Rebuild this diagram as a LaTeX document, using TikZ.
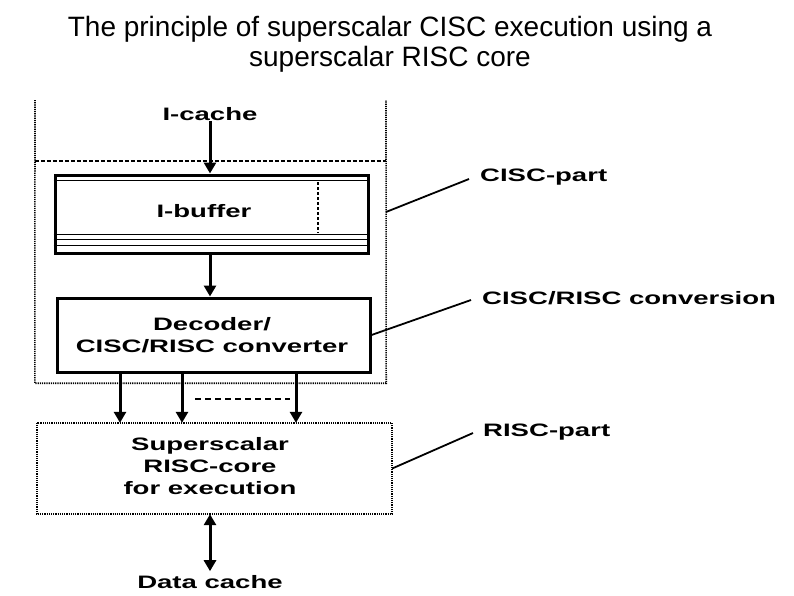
\documentclass[tikz,border=0pt]{standalone}
\usepackage{fontspec}
\setmainfont{Liberation Sans}
\usetikzlibrary{arrows.meta}
\newcommand\wide[1]{\scalebox{1.53}[1]{#1}}
\tikzset{
  title/.style={font=\fontsize{28}{30}\selectfont, inner sep=0pt},
  lab/.style={font=\fontsize{18}{21.5}\selectfont\bfseries, align=center, inner sep=0pt},
  box/.style={draw, line width=3pt, inner sep=0pt},
  dotbox/.style={line width=1.6pt, dash pattern=on 1.2pt off 1pt},
  dashbox/.style={line width=1.6pt, dash pattern=on 4pt off 2pt},
  arr/.style={line width=3pt, -{Triangle[length=11pt,width=12pt]}},
  darr/.style={line width=3pt, {Triangle[length=11pt,width=12pt]}-{Triangle[length=11pt,width=12pt]}},
  leader/.style={line width=1.8pt}
}
\begin{document}
\begin{tikzpicture}[x=1pt,y=-1pt]
\useasboundingbox (0,0) rectangle (794,595);
\fill[white] (0,0) rectangle (794,595);
% title
\node[title] (t1) at (390,29) {The principle of superscalar CISC execution using a};
\node[title] (t2) at (390,59) {superscalar RISC core};
% CISC area
\node[minimum width=351pt, minimum height=222pt, inner sep=0pt] (cisc) at (210.5,272) {};
\coordinate (ctl) at (35,100);
\coordinate (ctr) at (386,100);
\draw[dotbox] (ctl) -- (cisc.south west) -- (cisc.south east) -- (ctr);
\draw[dashbox] (cisc.north west) -- (cisc.north east);
% I-cache
\node[lab] (icache) at (210,114) {\wide{I-cache}};
% I-buffer
\node[box, minimum width=313pt, minimum height=78pt] (ibuf) at (211.5,214) {};
\draw[line width=1.5pt] ([yshift=-7pt]ibuf.north west) -- ([yshift=-7pt]ibuf.north east);
\draw[line width=1.5pt] ([yshift=20pt]ibuf.south west) -- ([yshift=20pt]ibuf.south east);
\draw[line width=1.5pt] ([yshift=15pt]ibuf.south west) -- ([yshift=15pt]ibuf.south east);
\draw[line width=1.5pt] ([yshift=9pt]ibuf.south west) -- ([yshift=9pt]ibuf.south east);
\coordinate (dv1) at (318,182);
\coordinate (dv2) at (318,233);
\draw[line width=2pt, dash pattern=on 3pt off 2pt] (dv1) -- (dv2);
\node[lab] (ibl) at (204,211) {\wide{I-buffer}};
% Decoder
\node[box, minimum width=313pt, minimum height=74pt] (dec) at (213.5,335) {};
\node[lab] (decl) at (212,335) {\wide{Decoder/}\\\wide{CISC/RISC converter}};
% RISC box
\node[minimum width=355pt, minimum height=91pt, inner sep=0pt] (risc) at (214.5,468.5) {};
\draw[dotbox] (risc.north west) rectangle (risc.south east);
\node[lab, font=\fontsize{18}{22}\selectfont\bfseries] (riscl) at (210,466) {\wide{Superscalar}\\\wide{RISC-core}\\\wide{for execution}};
% Data cache
\node[lab] (dc) at (210,582) {\wide{Data cache}};
% arrows
\draw[arr] (icache.south) -- (icache.south |- ibuf.north);
\draw[arr] (ibuf.south -| icache) -- (dec.north -| icache);
\coordinate (a1) at (120,0);
\coordinate (a2) at (182,0);
\coordinate (a3) at (296,0);
\draw[arr] (dec.south -| a1) -- (risc.north -| a1);
\draw[arr] (dec.south -| a2) -- (risc.north -| a2);
\draw[arr] (dec.south -| a3) -- (risc.north -| a3);
\coordinate (dl1) at (195,399);
\coordinate (dl2) at (290,399);
\draw[line width=1.2pt, dash pattern=on 6pt off 4pt] (dl1) -- (dl2);
\draw[darr] (risc.south -| icache) -- ([yshift=4pt]dc.north -| icache);
% side labels
\node[lab, anchor=west] (cp) at (480,177) {\wide{CISC-part}};
\node[lab, anchor=west] (conv) at (482,298) {\wide{CISC/RISC conversion}};
\node[lab, anchor=west] (rp) at (483,432) {\wide{RISC-part}};
\coordinate (l1) at (386,212);
\draw[leader] (l1) -- ([xshift=-11pt,yshift=-2pt]cp.west);
\draw[leader] (dec.east) -- ([xshift=-11pt,yshift=-2pt]conv.west);
\draw[leader] (risc.east) -- ([xshift=-10pt,yshift=-1pt]rp.west);
\end{tikzpicture}
\end{document}
